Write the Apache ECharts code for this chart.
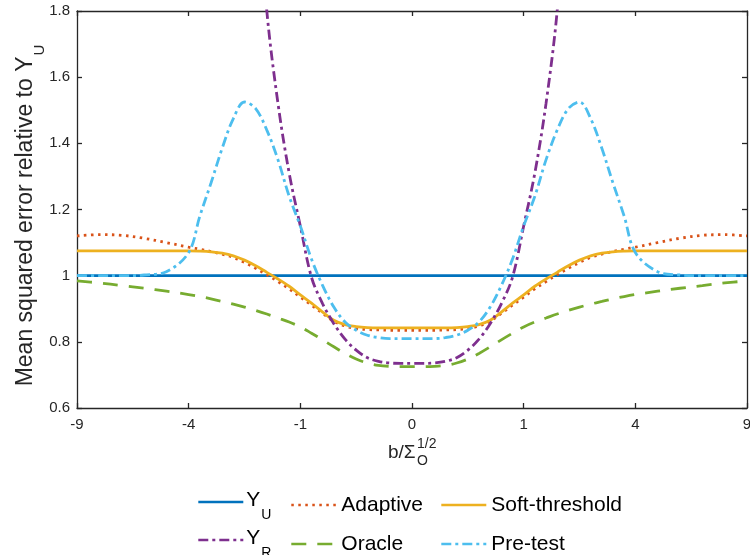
<!DOCTYPE html>
<html>
<head>
<meta charset="utf-8">
<script src="https://cdn.jsdelivr.net/npm/echarts@6/dist/echarts.min.js"></script>
<style>
html,body{margin:0;padding:0;background:#fff;}
#chart{width:750px;height:555px;}
</style>
</head>
<body>
<div id="chart"></div>
<script>
// x positions in axis units: signed square root of b/Σ_O^{1/2}
const xRoot = [-3,-2.8,-2.6,-2.4,-2.2,-2.0,-1.9,-1.8,-1.7,-1.6,-1.5,-1.4,-1.3,-1.2,-1.1,-1.0,-0.9,-0.8,-0.7,-0.6,-0.5,-0.4,-0.3,-0.2,-0.1,0,
  0.1,0.2,0.3,0.4,0.5,0.6,0.7,0.8,0.9,1.0,1.1,1.2,1.3,1.4,1.5,1.6,1.7,1.8,1.9,2.0,2.2,2.4,2.6,2.8,3];
const xTickLabels = ['-9','-4','-1','0','1','4','9'];
const yTickLabels = ['0.6','0.8','1','1.2','1.4','1.6','1.8'];

const seriesNames = ['Y_U','Adaptive','Soft-threshold','Y_R','Oracle','Pre-test'];

const yU = [1,1,1,1,1,1,1,1,1,1,1,1,1,1,1,1,1,1,1,1,1,1,1,1,1,1,
  1,1,1,1,1,1,1,1,1,1,1,1,1,1,1,1,1,1,1,1,1,1,1,1,1];
const adaptive = [1.12,1.124,1.122,1.113,1.10,1.086,1.08,1.073,1.065,1.055,1.04,1.022,1.003,0.982,0.96,0.935,0.911,0.886,0.862,0.848,0.84,0.837,0.836,0.835,0.835,0.835,
  0.835,0.835,0.836,0.837,0.84,0.848,0.862,0.886,0.911,0.935,0.96,0.982,1.003,1.022,1.04,1.055,1.065,1.073,1.08,1.086,1.10,1.113,1.122,1.124,1.12];
const softThreshold = [1.075,1.075,1.075,1.075,1.075,1.075,1.074,1.072,1.068,1.06,1.047,1.03,1.01,0.99,0.968,0.942,0.917,0.89,0.865,0.852,0.846,0.843,0.842,0.842,0.842,0.842,
  0.842,0.842,0.842,0.843,0.846,0.852,0.865,0.89,0.917,0.942,0.968,0.99,1.01,1.03,1.047,1.06,1.068,1.072,1.074,1.075,1.075,1.075,1.075,1.075,1.075];
const yR = [null,null,null,null,null,null,null,null,null,null,null,2.25,1.80,1.52,1.31,1.15,0.995,0.915,0.855,0.808,0.775,0.752,0.741,0.736,0.735,0.735,
  0.735,0.736,0.741,0.752,0.775,0.808,0.855,0.915,0.995,1.15,1.31,1.52,1.80,2.25,null,null,null,null,null,null,null,null,null,null,null];
const oracle = [0.984,0.978,0.97,0.962,0.953,0.943,0.937,0.93,0.922,0.914,0.905,0.895,0.884,0.872,0.86,0.845,0.826,0.806,0.785,0.765,0.748,0.736,0.729,0.726,0.725,0.725,
  0.725,0.726,0.729,0.736,0.748,0.765,0.785,0.806,0.826,0.845,0.86,0.872,0.884,0.895,0.905,0.914,0.922,0.93,0.937,0.943,0.953,0.962,0.97,0.978,0.984];
const preTest = [1.0,1.0,1.0,1.002,1.012,1.07,1.18,1.28,1.385,1.475,1.525,1.505,1.44,1.35,1.24,1.15,1.05,0.97,0.905,0.86,0.835,0.82,0.813,0.81,0.81,0.81,
  0.81,0.81,0.813,0.82,0.835,0.86,0.905,0.97,1.05,1.15,1.24,1.35,1.44,1.505,1.525,1.475,1.385,1.28,1.18,1.07,1.012,1.002,1.0,1.0,1.0];

const colors = ['#0072BD','#D95319','#EDB120','#7E2F8E','#77AC30','#4DBEEE'];
const dashes = ['solid',[2.5,4.5],'solid',[10,4,3,4],[15,11],[10,4,3,4]];
const valueSets = [yU, adaptive, softThreshold, yR, oracle, preTest];

const FONT = '"Liberation Sans", Arial, Helvetica, sans-serif';
const axisColor = '#262626';

const series = seriesNames.map((n,i)=>({
  name: n, type: 'line', showSymbol: false, symbol: 'none', smooth: 0.35,
  connectNulls: false, clip: true,
  lineStyle: {color: colors[i], width: 2.8, type: dashes[i], cap: 'butt'},
  itemStyle: {color: colors[i]},
  data: xRoot.map((x,k)=>[x, valueSets[i][k]]),
  z: 2 + i
}));

const subRich = {
  t: {fontSize: 21, lineHeight: 24, verticalAlign: 'top', color: '#000', fontFamily: FONT},
  s: {fontSize: 14, lineHeight: 14, padding: [18,0,0,1], verticalAlign: 'top', color: '#000', fontFamily: FONT}
};
const legendPos = [
  {left:197, top:490}, {left:290, top:491}, {left:440, top:491},
  {left:197, top:528}, {left:290, top:530}, {left:440, top:530}
];
const legends = seriesNames.map((n,i)=>{
  const isSub = n.startsWith('Y_');
  return {
    data: [n], left: legendPos[i].left, top: legendPos[i].top,
    orient: 'horizontal', itemWidth: 45, itemHeight: 14, itemGap: 0, padding: 0,
    selectedMode: false,
    itemStyle: {opacity: 0, color: 'rgba(0,0,0,0)', borderColor: 'rgba(0,0,0,0)', borderWidth: 0},
    lineStyle: {width: 2.6},
    formatter: isSub ? ('{t|Y}{s|' + n.slice(2) + '}') : n,
    textStyle: isSub ? {rich: subRich, padding:[0,0,0,-2]} :
      {fontSize: 21, lineHeight: 24, padding: [4,0,0,0], color: '#000', fontFamily: FONT}
  };
});

const chart = echarts.init(document.getElementById('chart'), null, {renderer: 'canvas'});
chart.setOption({
  animation: false,
  backgroundColor: '#fff',
  grid: {left: 77, right: 3, top: 11, bottom: 147, containLabel: false, outerBoundsMode: 'none'},
  xAxis: [{
    type: 'value', min: -3, max: 3, interval: 1, position: 'bottom',
    axisLine: {show: true, onZero: false, lineStyle: {color: axisColor, width: 1.3}},
    axisTick: {show: true, inside: true, length: 5, lineStyle: {color: axisColor, width: 1.3}},
    axisLabel: {fontSize: 15, color: axisColor, margin: 9, fontFamily: FONT,
      formatter: v => xTickLabels[Math.round(v) + 3]},
    splitLine: {show: false}
  },{
    type: 'value', min: -3, max: 3, interval: 1, position: 'top',
    axisLine: {show: true, onZero: false, lineStyle: {color: axisColor, width: 1.3}},
    axisTick: {show: true, inside: true, length: 5, lineStyle: {color: axisColor, width: 1.3}},
    axisLabel: {show: false}, splitLine: {show: false}
  }],
  yAxis: [{
    type: 'value', min: 0.6, max: 1.8, interval: 0.2, position: 'left',
    axisLine: {show: true, onZero: false, lineStyle: {color: axisColor, width: 1.3}},
    axisTick: {show: true, inside: true, length: 5, lineStyle: {color: axisColor, width: 1.3}},
    axisLabel: {fontSize: 15, color: axisColor, margin: 7, fontFamily: FONT,
      formatter: v => yTickLabels[Math.round((v - 0.6) / 0.2)]},
    splitLine: {show: false},
    name: '{t|Mean squared error relative to Y}{s|U}',
    nameLocation: 'middle', nameRotate: 90, nameGap: 36, nameMoveOverlap: false,
    nameTextStyle: {padding: [0, 12, 0, 0], rich: {
      t: {fontSize: 23, lineHeight: 27, verticalAlign: 'top', color: axisColor, fontFamily: FONT},
      s: {fontSize: 15, lineHeight: 15, padding: [18,0,0,1], verticalAlign: 'top', color: axisColor, fontFamily: FONT}
    }}
  },{
    type: 'value', min: 0.6, max: 1.8, interval: 0.2, position: 'right',
    axisLine: {show: true, onZero: false, lineStyle: {color: axisColor, width: 1.3}},
    axisTick: {show: true, inside: true, length: 5, lineStyle: {color: axisColor, width: 1.3}},
    axisLabel: {show: false}, splitLine: {show: false}
  }],
  legend: legends,
  graphic: [{
    type: 'group', left: 388, top: 437,
    children: [
      {type: 'text', x: 0, y: 6, style: {text: 'b/Σ', fontSize: 19, fill: axisColor, fontFamily: FONT}},
      {type: 'text', x: 29, y: 0, style: {text: '1/2', fontSize: 14, fill: axisColor, fontFamily: FONT}},
      {type: 'text', x: 29, y: 17, style: {text: 'O', fontSize: 14, fill: axisColor, fontFamily: FONT}}
    ]
  }],
  series: series
});
</script>
</body>
</html>
